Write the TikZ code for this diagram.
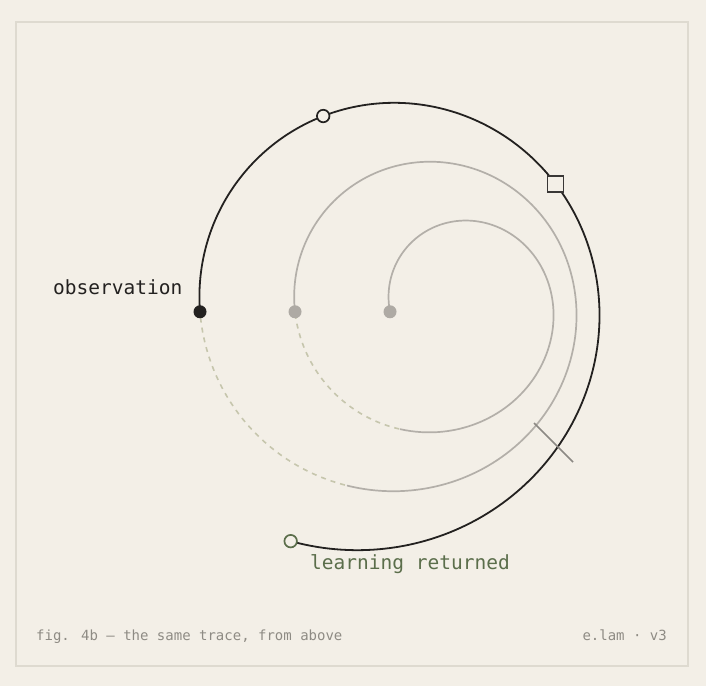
\documentclass[tikz,border=0pt]{standalone}
\usepackage{fontspec}
\newfontfamily\monofont{DejaVu Sans Mono}
\definecolor{bgc}{HTML}{F3EFE7}
\definecolor{framec}{HTML}{DEDAD0}
\definecolor{inkc}{HTML}{232120}
\definecolor{grayc}{HTML}{B3AFA9}
\definecolor{dashc}{HTML}{C6C6AD}
\definecolor{dotc}{HTML}{AEAAA4}
\definecolor{greenc}{HTML}{5B6E4B}
\definecolor{footc}{HTML}{8E8B84}
\definecolor{tickc}{HTML}{8C8984}
\tikzset{
  declare function={sx(\t)=466-36*\t-(76+59*\t)*cos(360*\t); sy(\t)=311.75-(76+59*\t)*sin(360*\t);},
  pastline/.style={grayc, line width=1.7pt},
  dashline/.style={dashc, line width=1.6pt, dash pattern=on 5pt off 5pt},
  nowline/.style={inkc, line width=1.8pt},
  graydot/.style={circle, fill=dotc, minimum size=13pt, inner sep=0pt},
  inkdot/.style={circle, fill=inkc, minimum size=13pt, inner sep=0pt},
  opendot/.style={circle, draw=inkc, fill=bgc, line width=1.7pt, minimum size=12.5pt, inner sep=0pt},
  greendot/.style={circle, draw=greenc, fill=bgc, line width=1.7pt, minimum size=12.5pt, inner sep=0pt},
  sqmark/.style={rectangle, draw=inkc!90, fill=bgc, line width=1.7pt, minimum size=16pt, inner sep=0pt},
  biglabel/.style={inner sep=0pt, font=\monofont\fontsize{19.5}{22}\selectfont},
  footlabel/.style={inner sep=0pt, text=footc, font=\monofont\fontsize{14}{16}\selectfont},
}
\begin{document}
\begin{tikzpicture}[x=1pt, y=-1pt]
\useasboundingbox (0,0) rectangle (706,686);
\fill[bgc] (0,0) rectangle (706,686);
\draw[framec, line width=1.5pt] (16,22) rectangle (688,666);
% spiral
\draw[pastline] plot[domain=0:0.8, samples=120, variable=\t] ({sx(\t)},{sy(\t)});
\draw[dashline] plot[domain=0.8:1, samples=40, variable=\t] ({sx(\t)},{sy(\t)});
\draw[pastline] plot[domain=1:1.8, samples=160, variable=\t] ({sx(\t)},{sy(\t)});
\draw[dashline] plot[domain=1.8:2, samples=50, variable=\t] ({sx(\t)},{sy(\t)});
\draw[nowline] plot[domain=2:2.8, samples=200, variable=\t] ({sx(\t)},{sy(\t)});
% tick
\coordinate (tickA) at (534,423);
\coordinate (tickB) at (573,462);
\draw[tickc, line width=1.6pt] (tickA) -- (tickB);
% markers
\node[graydot] (d0) at ({sx(0)},{sy(0)}) {};
\node[graydot] (d1) at ({sx(1)},{sy(1)}) {};
\node[inkdot] (d2) at ({sx(2)},{sy(2)}) {};
\node[opendot] (o1) at ({sx(2.2)},{sy(2.2)}) {};
\node[sqmark] (sq) at ({sx(2.4)},{sy(2.4)}) {};
\node[greendot] (endd) at ({sx(2.8)},{sy(2.8)}) {};
% labels
\node[biglabel, text=inkc, anchor=base west] (obs) at (53,294) {observation};
\node[biglabel, text=greenc, anchor=base west] (lr) at (310,569) {learning returned};
\node[footlabel, anchor=base west] (cap) at (36,640) {fig. 4b — the same trace, from above};
\node[footlabel, anchor=base east] (sig) at (667,640) {e.lam · v3};
\end{tikzpicture}
\end{document}
